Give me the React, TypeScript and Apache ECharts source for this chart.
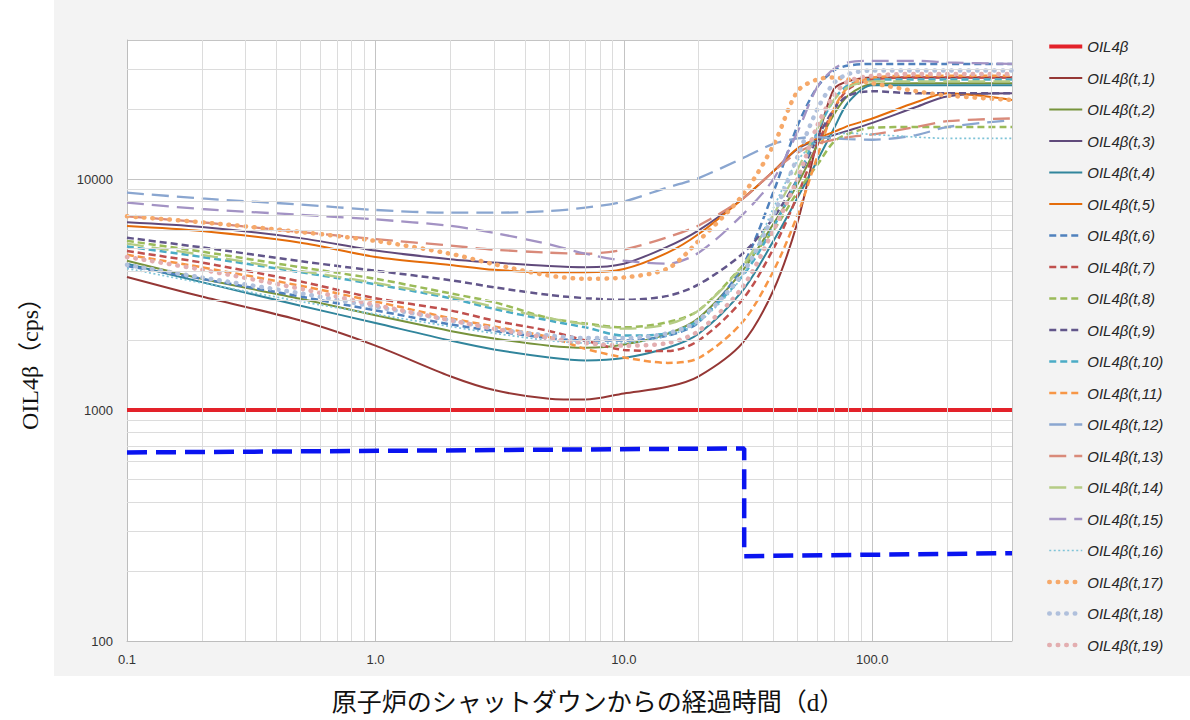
import React, { useEffect, useRef } from "react";
import * as echarts from "echarts";

// ---- data ----
const DAYS = [0.1, 0.2, 0.5, 1, 2, 3, 5, 7, 10, 15, 20, 30, 40, 50, 60, 70, 80, 100, 150, 200, 365];

const NAMES = [
  "OIL4β",
  "OIL4β(t,1)", "OIL4β(t,2)", "OIL4β(t,3)", "OIL4β(t,4)", "OIL4β(t,5)",
  "OIL4β(t,6)", "OIL4β(t,7)", "OIL4β(t,8)", "OIL4β(t,9)", "OIL4β(t,10)",
  "OIL4β(t,11)", "OIL4β(t,12)", "OIL4β(t,13)", "OIL4β(t,14)", "OIL4β(t,15)",
  "OIL4β(t,16)", "OIL4β(t,17)", "OIL4β(t,18)", "OIL4β(t,19)",
];

const LIMIT_X = [0.1, 365];
const LIMIT_Y = [1000, 1000];

const BLUE_X = [0.1, 30.5, 30.5, 365];
const BLUE_Y = [655, 682, 233, 240];

const T1 = [3770, 3100, 2440, 1900, 1400, 1220, 1120, 1110, 1180, 1260, 1400, 1950, 3300, 6500, 14500, 24500, 26500, 27500, 27500, 27500, 27500];
const T2 = [4430, 3700, 3030, 2570, 2200, 2040, 1900, 1860, 1920, 2140, 2500, 4000, 6400, 9500, 14000, 19000, 23000, 25800, 26000, 26000, 26000];
const T3 = [6500, 6200, 5550, 4900, 4500, 4350, 4200, 4150, 4300, 5100, 6000, 8200, 10800, 13500, 14800, 15500, 16200, 17500, 20500, 22800, 23500];
const T4 = [4300, 3580, 2830, 2380, 2000, 1830, 1690, 1640, 1680, 1860, 2140, 3280, 5400, 8300, 12000, 16500, 21500, 25500, 25500, 25500, 25500];
const T5 = [6270, 5960, 5300, 4600, 4250, 4050, 3950, 3950, 4080, 4800, 5780, 8200, 10800, 13600, 15000, 16000, 17000, 18300, 21500, 23500, 22000];
const T6 = [4200, 3700, 3100, 2700, 2350, 2200, 2050, 2000, 2000, 2100, 2400, 4200, 8800, 17000, 25000, 29500, 31000, 31500, 31500, 31500, 31500];
const T7 = [4880, 4350, 3600, 3050, 2700, 2440, 2200, 2000, 1820, 1800, 2000, 3000, 5000, 8500, 14000, 20000, 24500, 27000, 27500, 27500, 27500];
const T8 = [5400, 4850, 4150, 3700, 3200, 2930, 2500, 2370, 2280, 2400, 2700, 4200, 6000, 8800, 11500, 14500, 15700, 16700, 16800, 16800, 16800];
const T9 = [5570, 5060, 4410, 4010, 3650, 3400, 3150, 3050, 3000, 3120, 3500, 4750, 6800, 10000, 15000, 20000, 23000, 24000, 23500, 23500, 23500];
const T10 = [5100, 4600, 3950, 3500, 3050, 2740, 2440, 2280, 2100, 2150, 2450, 3800, 6200, 10000, 16000, 22000, 25500, 27000, 27000, 27000, 27000];
const T11 = [4700, 4150, 3450, 2950, 2500, 2300, 2070, 1840, 1690, 1600, 1680, 2400, 4000, 7000, 12500, 20000, 25000, 27500, 28000, 28000, 28000];
const T12 = [8730, 8240, 7760, 7350, 7150, 7150, 7270, 7520, 8000, 9200, 10100, 12300, 14200, 15000, 15200, 15000, 14900, 14800, 15500, 16800, 18000];
const T13 = [6900, 6500, 5900, 5500, 5150, 4950, 4800, 4750, 4950, 5600, 6300, 8200, 10800, 13000, 14200, 14800, 15200, 15600, 16800, 17800, 18300];
const T14 = [5250, 4700, 4000, 3550, 3100, 2800, 2500, 2350, 2250, 2350, 2700, 4200, 7000, 11000, 16500, 22000, 25000, 26500, 26500, 26500, 26500];
const T15 = [7900, 7420, 7000, 6690, 6270, 5850, 5220, 4750, 4430, 4300, 4800, 7000, 10000, 16000, 25000, 30000, 32000, 32500, 32500, 32000, 31500];
const T16 = [4100, 3550, 2950, 2600, 2300, 2150, 2000, 1950, 1950, 2100, 2400, 3800, 7500, 12000, 14500, 15500, 15800, 15600, 15200, 15000, 15000];
const T17 = [6900, 6500, 5900, 5400, 4750, 4280, 3820, 3700, 3750, 4100, 5400, 8500, 14000, 24000, 27000, 27500, 27000, 26000, 24000, 23000, 22000];
const T18 = [4250, 3750, 3200, 2800, 2450, 2250, 2100, 2050, 2050, 2150, 2450, 3900, 7000, 12500, 20000, 26000, 28500, 29500, 29500, 29500, 29500];
const T19 = [4600, 4050, 3350, 2850, 2450, 2250, 2050, 1950, 1900, 1950, 2200, 3400, 6000, 10000, 17000, 23000, 26500, 28000, 28500, 28500, 28500];

const CURVES = [T1, T2, T3, T4, T5, T6, T7, T8, T9, T10, T11, T12, T13, T14, T15, T16, T17, T18, T19];

const X_MINOR = [0.2, 0.3, 0.4, 0.5, 0.6, 0.7, 0.8, 0.9, 2, 3, 4, 5, 6, 7, 8, 9, 20, 30, 40, 50, 60, 70, 80, 90, 200, 300];
const Y_MINOR = [200, 300, 400, 500, 600, 700, 800, 900, 2000, 3000, 4000, 5000, 6000, 7000, 8000, 9000, 20000, 30000];

// ---- styles ----
const COLORS = [
  "#953735", "#77933C", "#604A7B", "#31859C", "#E46C0A",
  "#4F81BD", "#C0504D", "#9BBB59", "#62568a", "#4BACC6", "#F79646",
  "#8aa6d0", "#d98a7a", "#b5cc85", "#a393c4",
  "#7fc4d8", "#f6a96a", "#b0c0dc", "#e3aeb0",
];

function styleFor(i: number) {
  if (i < 5) return { width: 2, type: "solid" as any, cap: "butt" };
  if (i < 11) return { width: 2.5, type: [7, 4] as any, cap: "butt" };
  if (i < 15) return { width: 2.3, type: [17, 8] as any, cap: "butt" };
  if (i === 15) return { width: 1.7, type: [2, 2.5] as any, cap: "butt" };
  return { width: 4.5, type: [0.5, 8] as any, cap: "round" };
}

export default function App() {
  const ref = useRef<HTMLDivElement>(null);
  useEffect(() => {
    if (!ref.current) return;
    const chart = echarts.init(ref.current, undefined, { renderer: "svg" });

    const curveSeries = CURVES.map((vals, i) => {
      const s = styleFor(i);
      return {
        name: NAMES[i + 1],
        type: "line",
        data: DAYS.map((d, j) => [d, vals[j]]),
        showSymbol: false,
        symbol: "none",
        smooth: 0.3,
        z: 3,
        itemStyle: { color: COLORS[i] },
        lineStyle: { color: COLORS[i], width: s.width, type: s.type, cap: s.cap },
      };
    });

    const legendData = NAMES.map((n, k) => {
      if (k === 0) return { name: n };
      const s = styleFor(k - 1);
      return { name: n, lineStyle: { width: s.width, type: s.type, cap: s.cap } };
    });

    const option: any = {
      animation: false,
      backgroundColor: "#ffffff",
      graphic: [
        {
          type: "rect",
          z: -100,
          silent: true,
          shape: { x: 54, y: 0, width: 1136, height: 676 },
          style: { fill: "#f3f3f3" },
        },
        {
          type: "text",
          x: 30,
          y: 358,
          rotation: Math.PI / 2,
          style: {
            text: "OIL4β（cps）",
            fontSize: 24,
            fontFamily: "'Liberation Serif', 'DejaVu Serif', 'Noto Sans CJK JP', serif",
            fill: "#111",
            align: "center",
            verticalAlign: "middle",
          },
        },
        {
          type: "text",
          x: 588,
          y: 702,
          style: {
            text: "原子炉のシャットダウンからの経過時間（d）",
            fontSize: 25,
            fontFamily: "'Liberation Serif', 'Noto Sans CJK JP', serif",
            fill: "#111",
            align: "center",
            verticalAlign: "middle",
          },
        },
      ],
      grid: {
        left: 127,
        top: 40,
        width: 885,
        height: 601,
        show: true,
        backgroundColor: "#ffffff",
        borderWidth: 0,
      },
      legend: {
        orient: "vertical",
        left: 1042,
        top: 34,
        itemWidth: 33,
        itemHeight: 14,
        itemGap: 16.5,
        data: legendData,
        itemStyle: { opacity: 0 },
        lineStyle: { width: "inherit" },
        textStyle: {
          fontFamily: "'Liberation Sans', Arial, sans-serif",
          fontStyle: "italic",
          fontSize: 15,
          color: "#262626",
        },
      },
      xAxis: {
        type: "log",
        logBase: 10,
        min: 0.1,
        max: 365,
        axisLine: { show: true, lineStyle: { color: "#bdbdbd" } },
        axisTick: { show: false },
        axisLabel: {
          showMaxLabel: false,
          margin: 12,
          fontSize: 13,
          color: "#333",
          fontFamily: "'Liberation Sans', Arial, sans-serif",
          formatter: (v: number) => Number(v).toFixed(1),
        },
        splitLine: { show: true, lineStyle: { color: "#c4c4c4", width: 1 } },
      },
      yAxis: {
        type: "log",
        logBase: 10,
        min: 100,
        max: 40000,
        axisLine: { show: true, lineStyle: { color: "#bdbdbd" } },
        axisTick: { show: false },
        axisLabel: {
          showMaxLabel: false,
          margin: 14,
          fontSize: 13,
          color: "#333",
          fontFamily: "'Liberation Sans', Arial, sans-serif",
          formatter: (v: number) => String(Math.round(v)),
        },
        splitLine: { show: true, lineStyle: { color: "#c4c4c4", width: 1 } },
      },
      series: [
        {
          name: "_grid",
          type: "line",
          data: [[0.1, 100]],
          symbol: "none",
          lineStyle: { opacity: 0 },
          z: 1,
          silent: true,
          markLine: {
            silent: true,
            symbol: ["none", "none"],
            label: { show: false },
            lineStyle: { color: "#dcdcdc", width: 1, type: "solid" },
            data: [
              ...X_MINOR.map((v) => ({ xAxis: v })),
              ...Y_MINOR.map((v) => ({ yAxis: v })),
            ],
          },
        },
        ...curveSeries,
        {
          name: NAMES[0],
          type: "line",
          data: LIMIT_X.map((x, i) => [x, LIMIT_Y[i]]),
          showSymbol: false,
          symbol: "none",
          z: 4,
          itemStyle: { color: "#e3222a" },
          lineStyle: { color: "#e3222a", width: 4 },
        },
        {
          name: "_blue",
          type: "line",
          data: BLUE_X.map((x, i) => [x, BLUE_Y[i]]),
          showSymbol: false,
          symbol: "none",
          z: 5,
          lineStyle: { color: "#0a14f0", width: 4.5, type: [20, 9] },
        },
      ],
    };

    chart.setOption(option);
    return () => chart.dispose();
  }, []);

  return (
    <div
      ref={ref}
      style={{ position: "fixed", left: 0, top: 0, width: 1190, height: 720 }}
    />
  );
}
